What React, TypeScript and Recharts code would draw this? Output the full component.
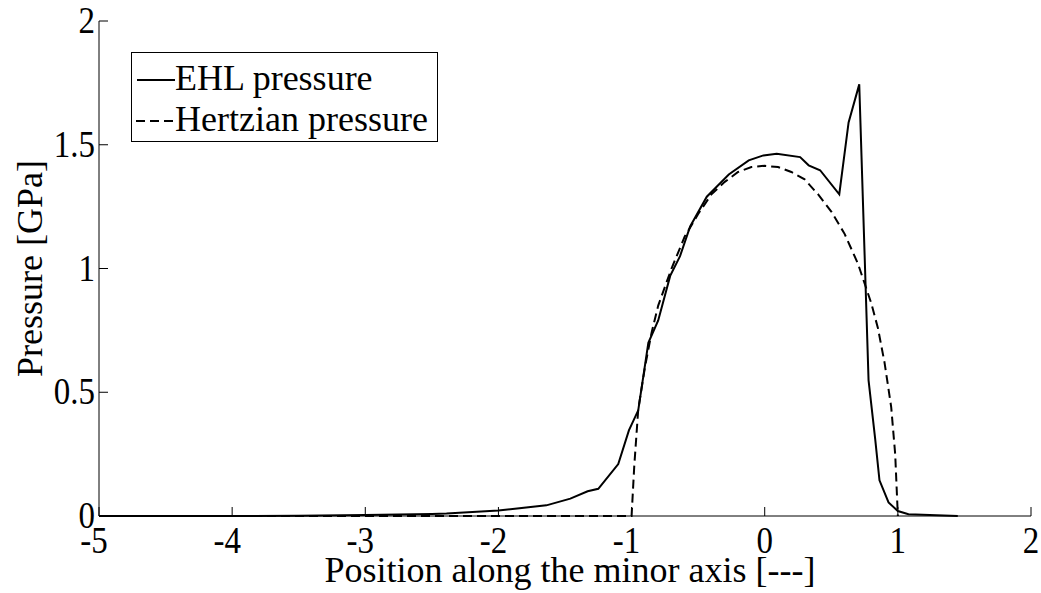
import { LineChart, Line, XAxis, YAxis, Legend } from 'recharts'

// EHL pressure
const ehlX = [-5, -4, -3.5, -3, -2.5, -2.39, -2, -1.64, -1.46, -1.33, -1.25, -1.1, -1.02, -0.95, -0.874, -0.8, -0.71, -0.636, -0.56, -0.435, -0.27, -0.12, -0.01, 0.09, 0.266, 0.33, 0.416, 0.56, 0.63, 0.71, 0.78, 0.83, 0.862, 0.93, 1.0, 1.08, 1.45]
const ehlP = [0, 0, 0.001, 0.004, 0.008, 0.01, 0.022, 0.043, 0.07, 0.1, 0.11, 0.21, 0.346, 0.427, 0.7, 0.79, 0.97, 1.05, 1.17, 1.29, 1.38, 1.437, 1.457, 1.464, 1.45, 1.417, 1.397, 1.3, 1.59, 1.744, 0.548, 0.31, 0.144, 0.055, 0.02, 0.007, 0]

// Hertzian pressure
const hertzX = [-5, -1.0, -0.98, -0.95, -0.9, -0.85, -0.8, -0.7, -0.6, -0.5, -0.4, -0.3, -0.2, -0.1, 0, 0.1, 0.2, 0.3, 0.4, 0.5, 0.6, 0.7, 0.8, 0.85, 0.9, 0.95, 0.98, 1.0]
const hertzP = [0, 0, 0.2, 0.43, 0.6, 0.74, 0.85, 1.0, 1.13, 1.22, 1.3, 1.35, 1.39, 1.41, 1.415, 1.41, 1.39, 1.36, 1.3, 1.23, 1.14, 1.02, 0.86, 0.76, 0.62, 0.44, 0.25, 0]

const xTicks = [-5, -4, -3, -2, -1, 0, 1, 2]
const yTicks = [0, 0.5, 1, 1.5, 2]

const ehlData = ehlX.map((x, i) => ({ x, p: ehlP[i] }))
const hertzData = hertzX.map((x, i) => ({ x, p: hertzP[i] }))

const serif = { fontFamily: "'Liberation Serif', 'DejaVu Serif', serif" }

const renderLegend = () => (
  <svg width={307} height={90} style={{ display: 'block' }}>
    <rect x={0.5} y={0.5} width={306} height={89} fill="#fff" stroke="#000" />
    <line x1={6} x2={44} y1={28} y2={28} stroke="#000" strokeWidth={2} />
    <text x={44} y={38} style={serif} fontSize={36} fill="#000">EHL pressure</text>
    <line x1={5} x2={44} y1={69} y2={69} stroke="#000" strokeWidth={2} strokeDasharray="9 5" />
    <text x={44} y={79} style={serif} fontSize={36} fill="#000">Hertzian pressure</text>
  </svg>
)

// tick labels are a little taller than wide in the source, hence the scaleY
const XTick = ({ x, y, payload }: any) => {
  const v = payload.value
  return (
    <text
      transform={`translate(${x + (v < 0 ? -5 : 0)}, ${y + 24}) scale(1, 1.12)`}
      textAnchor="middle"
      style={serif}
      fontSize={33}
      fill="#000"
    >
      {String(v)}
    </text>
  )
}

const YTick = ({ x, y, payload }: any) => (
  <text
    transform={`translate(${x}, ${y + 12}) scale(1, 1.12)`}
    textAnchor="end"
    style={serif}
    fontSize={33}
    fill="#000"
  >
    {String(payload.value)}
  </text>
)

export default function App() {
  return (
    <div style={{ position: 'absolute', left: 0, top: 0, background: '#fff' }}>
      <LineChart width={1041} height={593} margin={{ top: 21, right: 10, bottom: 0, left: 0 }}>
        <XAxis
          type="number"
          dataKey="x"
          domain={[-5, 2]}
          ticks={xTicks}
          height={77}
          stroke="#000"
          tickSize={-9}
          tickMargin={22}
          tick={<XTick />}
          label={({ viewBox }: any) => (
            <text x={viewBox.x + viewBox.width / 2 + 5} y={582} textAnchor="middle" style={serif} fontSize={36} fill="#000">
              Position along the minor axis [---]
            </text>
          )}
        />
        <XAxis
          xAxisId="top"
          orientation="top"
          type="number"
          domain={[-5, 2]}
          ticks={xTicks}
          height={0}
          stroke="#000"
          tickSize={-9}
          tickFormatter={() => ''}
        />
        <YAxis
          type="number"
          domain={[0, 2]}
          ticks={yTicks}
          width={99}
          stroke="#000"
          tickSize={-9}
          tickMargin={13}
          tick={<YTick />}
          label={({ viewBox }: any) => (
            <text
              transform={`translate(42, ${viewBox.y + viewBox.height / 2}) rotate(-90)`}
              textAnchor="middle"
              style={serif}
              fontSize={36}
              fill="#000"
            >
              Pressure [GPa]
            </text>
          )}
        />
        <YAxis
          yAxisId="right"
          orientation="right"
          type="number"
          domain={[0, 2]}
          ticks={yTicks}
          width={0}
          stroke="#000"
          tickSize={-9}
          tickFormatter={() => ''}
        />
        <Legend
          layout="vertical"
          align="center"
          verticalAlign="middle"
          content={renderLegend}
          wrapperStyle={{ left: 131, top: 52, width: 307, height: 90 }}
        />
        <Line
          data={ehlData}
          dataKey="p"
          name="EHL pressure"
          type="linear"
          stroke="#000"
          strokeWidth={2}
          dot={false}
          isAnimationActive={false}
        />
        <Line
          data={hertzData}
          dataKey="p"
          name="Hertzian pressure"
          type="linear"
          stroke="#000"
          strokeWidth={2}
          strokeDasharray="9 5"
          dot={false}
          isAnimationActive={false}
        />
      </LineChart>
    </div>
  )
}
